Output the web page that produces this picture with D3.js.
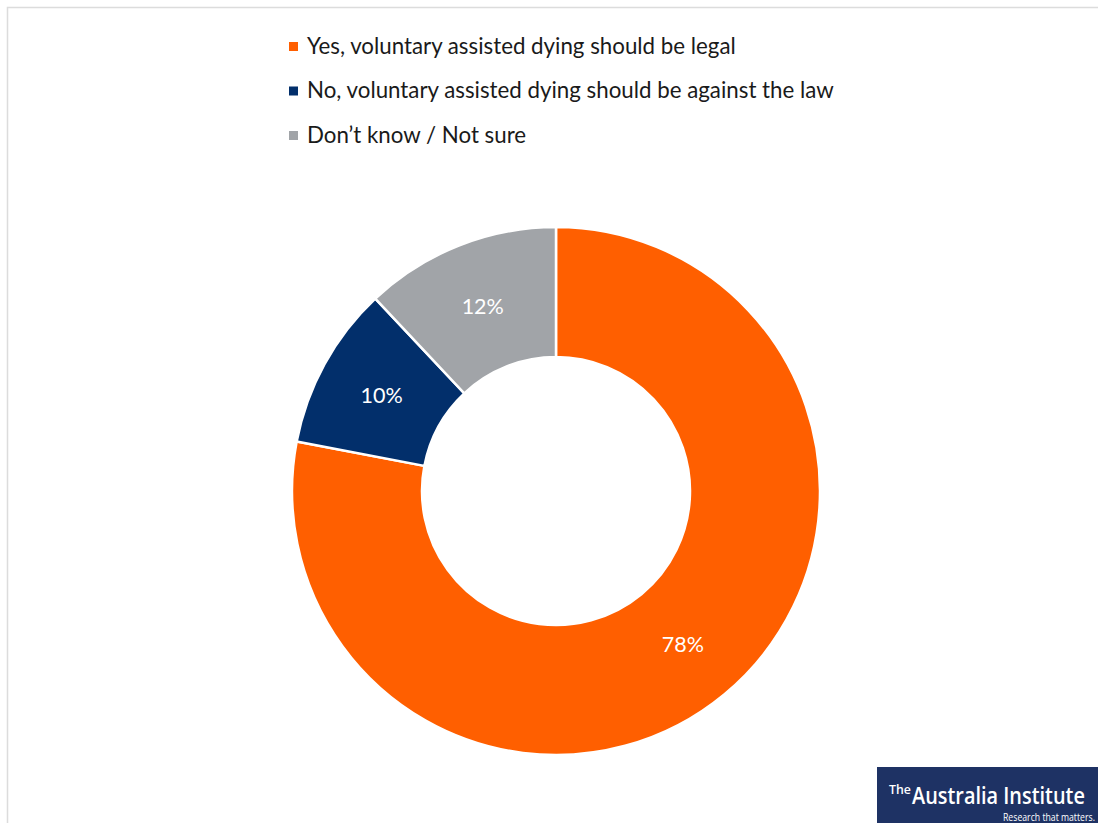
<!DOCTYPE html>
<html>
<head>
<meta charset="utf-8">
<script src="https://cdn.jsdelivr.net/npm/d3@7"></script>
<style>
  html, body { margin: 0; padding: 0; background: #fff; }
  svg { display: block; }
</style>
</head>
<body>
<svg id="chart" width="1098" height="823"></svg>
<script>
const categories = [
  "Yes, voluntary assisted dying should be legal",
  "No, voluntary assisted dying should be against the law",
  "Don\u2019t know / Not sure"
];
const values = [78, 10, 12];
const valueLabels = ["78%", "10%", "12%"];
const colors = ["#FF5F00", "#022F6B", "#A1A4A8"];

const W = 1098, H = 823;
const svg = d3.select("#chart");
const font = "Lato, 'Open Sans', sans-serif";

// frame
svg.append("rect")
  .attr("x", 7.5).attr("y", 7.5)
  .attr("width", W + 10).attr("height", H + 10)
  .attr("fill", "none").attr("stroke", "#dcdcdc").attr("stroke-width", 1.5);

// donut
const cx = 556, cy = 491, outerR = 264, innerR = 134;
const data = categories.map((c, i) => ({ cat: c, value: values[i], label: valueLabels[i], color: colors[i] }));
const pie = d3.pie().value(d => d.value).sort(null);
const arc = d3.arc().innerRadius(innerR).outerRadius(outerR);
const labelArc = d3.arc().innerRadius((innerR + outerR) / 2).outerRadius((innerR + outerR) / 2);

const g = svg.append("g").attr("transform", `translate(${cx},${cy})`);
const arcs = pie(data);
g.selectAll("path.slice").data(arcs).join("path")
  .attr("class", "slice")
  .attr("d", arc)
  .attr("fill", d => d.data.color)
  .attr("stroke", "#fff")
  .attr("stroke-width", 2.5);

g.selectAll("text.lbl").data(arcs).join("text")
  .attr("class", "lbl")
  .attr("transform", d => `translate(${labelArc.centroid(d)})`)
  .attr("text-anchor", "middle")
  .attr("dy", "0.36em")
  .attr("fill", "#fff")
  .style("font-family", font)
  .style("font-size", "21.5px")
  .text(d => d.data.label);

// legend
const legendY = d3.scalePoint().domain(categories).range([53.5, 142.5]);
const lg = svg.append("g");
const rows = lg.selectAll("g.row").data(data).join("g")
  .attr("class", "row")
  .attr("transform", d => `translate(289, ${legendY(d.cat)})`);
rows.append("rect")
  .attr("x", 0).attr("y", -11.5).attr("width", 9).attr("height", 9)
  .attr("fill", d => d.color);
rows.append("text")
  .attr("x", 18).attr("y", 0)
  .attr("fill", "#1a1a1a")
  .style("font-family", font)
  .style("font-size", "22.3px")
  .text(d => d.cat);

// logo
const logo = svg.append("g");
logo.append("rect")
  .attr("x", 877).attr("y", 767).attr("width", W - 877).attr("height", H - 767)
  .attr("fill", "#1E3264");

function fitText(sel, target) {
  const len = sel.node().getComputedTextLength();
  const sx = len > 0 ? target / len : 1;
  const x = +sel.attr("data-x"), y = +sel.attr("data-y");
  sel.attr("transform", `translate(${x},${y}) scale(${sx},1)`);
}

const t1 = logo.append("text")
  .attr("data-x", 889).attr("data-y", 794)
  .attr("fill", "#fff")
  .style("font-family", "'Open Sans', sans-serif")
  .style("font-weight", "600")
  .style("font-size", "12px")
  .text("The");
fitText(t1, 22);

const t2 = logo.append("text")
  .attr("data-x", 912).attr("data-y", 804)
  .attr("fill", "#fff")
  .style("font-family", "'Open Sans', sans-serif")
  .style("font-weight", "600")
  .style("font-size", "24px")
  .text("Australia Institute");
fitText(t2, 173);

const t3 = logo.append("text")
  .attr("data-x", 1003).attr("data-y", 821)
  .attr("fill", "#fff")
  .style("font-family", "'Open Sans', sans-serif")
  .style("font-size", "11px")
  .text("Research that matters.");
fitText(t3, 92);
</script>
</body>
</html>
